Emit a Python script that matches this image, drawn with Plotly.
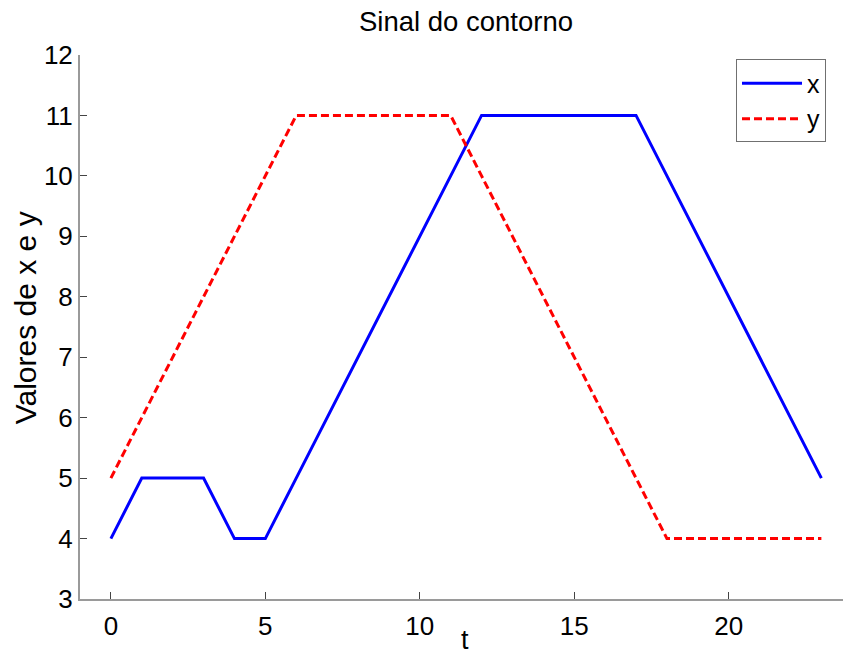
import plotly.graph_objects as go

t = list(range(24))
x_vals = [4, 5, 5, 5, 4, 4, 5, 6, 7, 8, 9, 10, 11, 11, 11, 11, 11, 11, 10, 9, 8, 7, 6, 5]
y_vals = [5, 6, 7, 8, 9, 10, 11, 11, 11, 11, 11, 11, 10, 9, 8, 7, 6, 5, 4, 4, 4, 4, 4, 4]
x_ticks = [0, 5, 10, 15, 20]
y_ticks = [3, 4, 5, 6, 7, 8, 9, 10, 11, 12]

FONT = "Liberation Sans, Arial, sans-serif"
W, H = 843, 655
L, T, B = 80, 54.5, 56

fig = go.Figure()
fig.add_trace(go.Scatter(x=t, y=x_vals, mode="lines", name="x",
                         line=dict(color="#0000ff", width=3)))
fig.add_trace(go.Scatter(x=t, y=y_vals, mode="lines", name="y",
                         line=dict(color="#ff0000", width=3, dash="8px,4px")))

axis_common = dict(showgrid=False, zeroline=False, showline=True,
                   linecolor="#9a9a9a", linewidth=2, ticks="inside",
                   ticklen=7, tickcolor="#444444", tickwidth=1,
                   tickfont=dict(family=FONT, size=26, color="black"))

fig.update_layout(
    width=W, height=H,
    margin=dict(l=L, r=0, t=T, b=B, pad=0),
    plot_bgcolor="white", paper_bgcolor="white",
    font=dict(family=FONT, color="black"),
    title=dict(text="Sinal do contorno", x=466 / W, xanchor="center",
               y=1 - 21 / H, yanchor="middle", xref="container", yref="container",
               font=dict(size=27.5, family=FONT, color="black")),
    xaxis=dict(range=[-1, 23.70], tickvals=x_ticks, ticklabelstandoff=3, **axis_common),
    yaxis=dict(range=[3, 12], tickvals=y_ticks, **axis_common),
    showlegend=True,
    legend=dict(x=(736 - L) / (W - L), xanchor="left", y=1 - (59 - T) / (H - T - B),
                yanchor="top", bgcolor="white", bordercolor="#707070", borderwidth=1,
                font=dict(family=FONT, size=25, color="black"),
                itemwidth=60, tracegroupgap=0),
)
fig.add_annotation(text="t", xref="paper", yref="paper", x=(465 - L) / (W - L),
                   y=-(640 - (H - B)) / (H - T - B), xanchor="center", yanchor="middle",
                   showarrow=False, font=dict(family=FONT, size=27, color="black"))
fig.add_annotation(text="Valores de x e y", xref="paper", yref="paper",
                   x=-(L - 25) / (W - L), y=(H - B - 318) / (H - T - B),
                   xanchor="center", yanchor="middle", textangle=-90,
                   showarrow=False, font=dict(family=FONT, size=30, color="black"))

fig.write_html("out.html", config={"displayModeBar": False},
               post_script="document.body.style.margin='0';document.body.style.overflow='hidden';")
